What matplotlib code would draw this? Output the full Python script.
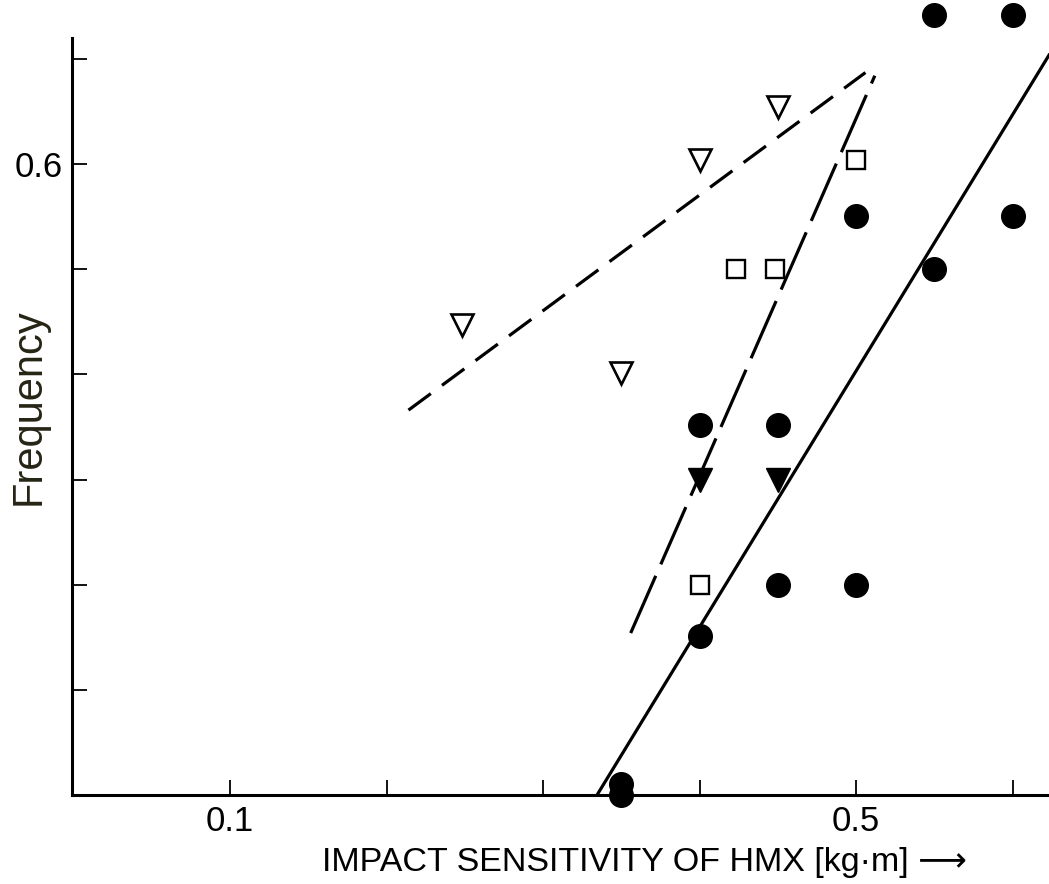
import matplotlib
matplotlib.use('Agg')
import matplotlib.pyplot as plt
from matplotlib.ticker import FixedLocator, FixedFormatter

plt.rcParams['font.family'] = ['Liberation Sans', 'DejaVu Sans']
plt.rcParams['lines.scale_dashes'] = False

# filled circles
circ_x = [0.55, 0.60, 0.50, 0.60, 0.55, 0.40, 0.45, 0.45, 0.50, 0.40, 0.35, 0.35]
circ_y = [0.742, 0.742, 0.551, 0.551, 0.50, 0.352, 0.352, 0.20, 0.20, 0.151, 0.01, 0.0]
# open squares
sq_x = [0.50, 0.423, 0.448, 0.40]
sq_y = [0.604, 0.50, 0.50, 0.20]
# filled triangles
ftri_x = [0.40, 0.45]
ftri_y = [0.30, 0.30]
# open triangles
otri_x = [0.45, 0.40, 0.248, 0.35]
otri_y = [0.654, 0.604, 0.447, 0.401]

# fitted lines (end points)
short_dash_x = [0.214, 0.506]
short_dash_y = [0.366, 0.687]
long_dash_x = [0.356, 0.512]
long_dash_y = [0.154, 0.684]
solid_x = [0.3345, 0.6233]
solid_y = [0.0, 0.7036]

xticks = [0.1, 0.2, 0.3, 0.4, 0.5, 0.6]
xtick_labels = ['0.1', '', '', '', '0.5', '']
yticks = [0.1, 0.2, 0.3, 0.4, 0.5, 0.6, 0.7]
ytick_labels = ['', '', '', '', '', '0.6', '']

W, H = 1049, 884
fig = plt.figure(figsize=(W / 100, H / 100), dpi=100)
ax = fig.add_axes([72 / W, (H - 795) / H, 1 - 72 / W, 795 / H])

lw = 2.3
ax.plot(short_dash_x, short_dash_y, color='black', lw=lw, dashes=(20, 10))
ax.plot(long_dash_x, long_dash_y, color='black', lw=lw, dashes=(45, 9))
ax.plot(solid_x, solid_y, color='black', lw=lw)

ax.plot(circ_x, circ_y, 'o', color='black', ms=17, clip_on=False, zorder=5)
ax.plot(sq_x, sq_y, 's', mfc='white', mec='black', mew=1.7, ms=13, zorder=5)
ax.plot(ftri_x, ftri_y, 'v', color='black', ms=17, zorder=5)
ax.plot(otri_x, otri_y, 'v', mfc='white', mec='black', mew=1.9, ms=16, zorder=5)

ax.set_xlim(-0.001, 0.6233)
ax.set_ylim(0, 0.756)

for s in ['top', 'right']:
    ax.spines[s].set_visible(False)
for s in ['left', 'bottom']:
    ax.spines[s].set_linewidth(2.2)
ax.spines['left'].set_bounds(0, 0.72)

ax.xaxis.set_major_locator(FixedLocator(xticks))
ax.xaxis.set_major_formatter(FixedFormatter(xtick_labels))
ax.yaxis.set_major_locator(FixedLocator(yticks))
ax.yaxis.set_major_formatter(FixedFormatter(ytick_labels))
ax.tick_params(direction='in', length=11, width=1.3, labelsize=25, pad=7)

fig.text(644 / W, 1 - 862 / H, 'IMPACT SENSITIVITY OF HMX [kg\u00b7m] \u27f6',
         ha='center', va='center', fontsize=24.5)
fig.text(29 / W, 1 - 407 / H, 'Frequency', rotation=90, ha='center', va='center',
         fontsize=30, color='#262414')

fig.savefig('out.png', dpi=100)
